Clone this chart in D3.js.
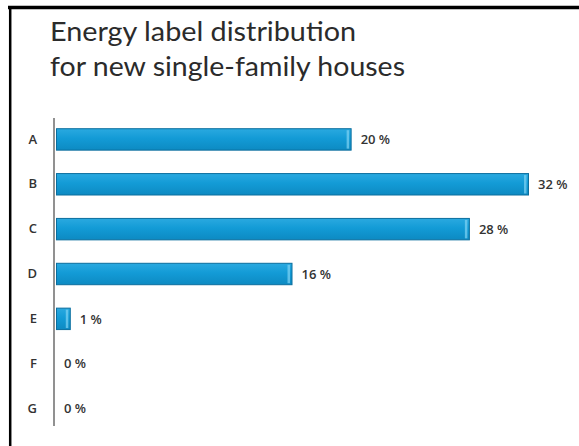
<!DOCTYPE html>
<html><head><meta charset="utf-8">
<script src="https://cdn.jsdelivr.net/npm/d3@7"></script>
<style>body{margin:0;background:#fff}svg{display:block}</style>
</head><body>
<script>
const categories = ["A","B","C","D","E","F","G"];
const values = [20, 32, 28, 16, 1, 0, 0];
const valueLabels = ["20 %","32 %","28 %","16 %","1 %","0 %","0 %"];
const titleLines = ["Energy label distribution","for new single-family houses"];

const W = 579, H = 446;
const svg = d3.select("body").append("svg").attr("width", W).attr("height", H);

// frame
svg.append("rect").attr("x",0).attr("y",0).attr("width",W).attr("height",H).attr("fill","#fff");
svg.append("line").attr("x1",8).attr("x2",W).attr("y1",7.5).attr("y2",7.5).attr("stroke","#000").attr("stroke-width",3.5);
svg.append("line").attr("x1",10.2).attr("x2",10.2).attr("y1",6).attr("y2",H).attr("stroke","#000").attr("stroke-width",2.5);

// title
const tw = [306, 355];
titleLines.forEach((t,i)=>{
  const el = svg.append("text").attr("x",50).attr("y",41 + i*35)
    .attr("font-family","Lato, 'Open Sans', sans-serif").attr("font-size",26.5)
    .attr("fill","#2b2b2b").text(t);
  el.attr("textLength", tw[i]).attr("lengthAdjust","spacingAndGlyphs");
});

const x = d3.scaleLinear().domain([0, 32]).range([56, 529]);
const y = d3.scaleBand().domain(categories).range([117, 431]).paddingInner(0.5).paddingOuter(0.25);

const defs = svg.append("defs");
const g = defs.append("linearGradient").attr("id","bg").attr("x1",0).attr("x2",0).attr("y1",0).attr("y2",1);
g.append("stop").attr("offset","0%").attr("stop-color","#2aa9e0");
g.append("stop").attr("offset","45%").attr("stop-color","#139bd6");
g.append("stop").attr("offset","100%").attr("stop-color","#0d8ac2");

const bars = svg.append("g");
categories.forEach((c,i)=>{
  const v = values[i];
  if (v > 0) {
    const x0 = x(0), x1 = x(v), yy = y(c), h = y.bandwidth();
    bars.append("rect").attr("x",x0+0.5).attr("y",yy+0.5).attr("width",x1-x0-1).attr("height",h-1)
      .attr("fill","url(#bg)").attr("stroke","#0b6e9e").attr("stroke-width",1);
    bars.append("rect").attr("x",x1-5).attr("y",yy+2).attr("width",2.5).attr("height",h-4)
      .attr("fill","#7fd3f3").attr("opacity",0.7);
  }
  svg.append("text").attr("x", x(v) + (v>0?9:8)).attr("y", y(c)+y.bandwidth()/2).attr("dy","0.36em")
    .attr("font-family","'Open Sans', Lato, sans-serif").attr("font-size",13).attr("font-weight",600)
    .attr("fill","#333").text(valueLabels[i]);
});

// axis
const yAxis = d3.axisLeft(y).tickSize(0).tickPadding(17);
const ag = svg.append("g").attr("transform","translate(54,0)").call(yAxis);
ag.select(".domain").attr("stroke","#6d6d6d").attr("stroke-width",1.5).attr("d","M0,118V426");
ag.selectAll("text").attr("font-family","'Open Sans', Lato, sans-serif").attr("font-size",13)
  .attr("font-weight",600).attr("fill","#333");
</script>
</body></html>
